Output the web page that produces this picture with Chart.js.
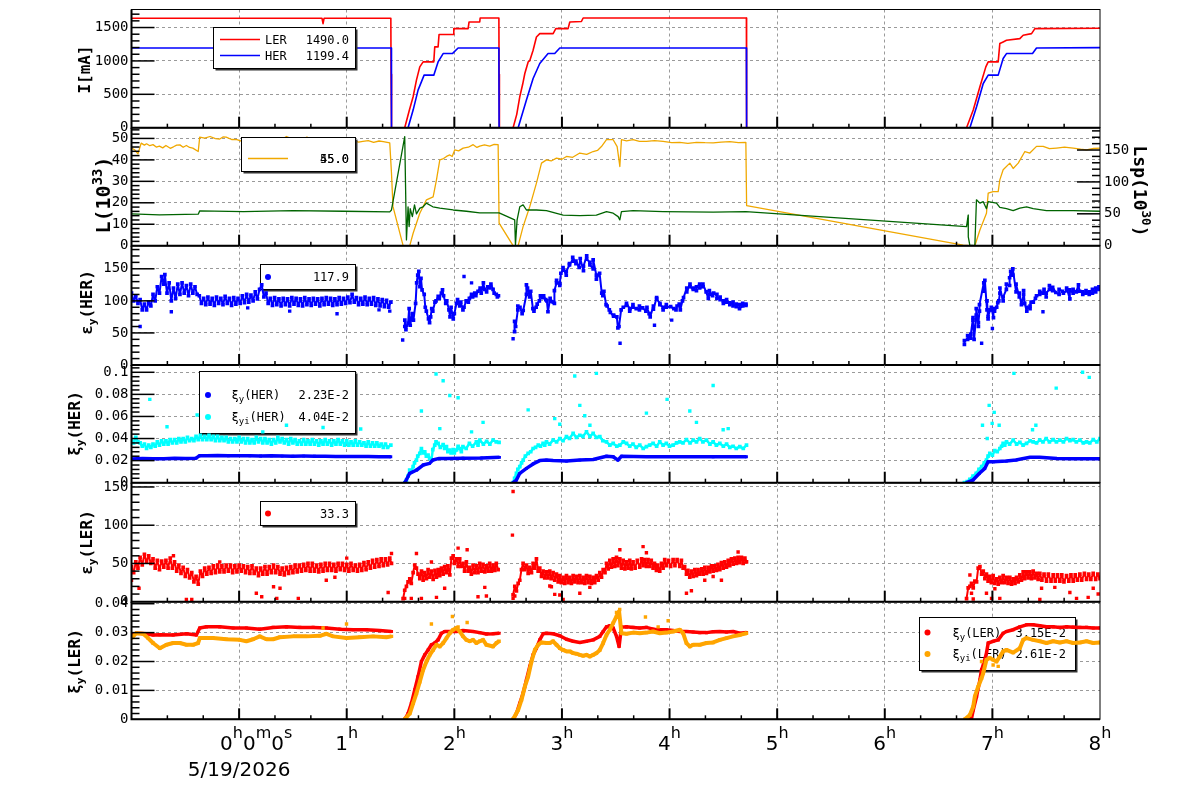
<!DOCTYPE html>
<html>
<head>
<meta charset="utf-8">
<script src="https://cdn.jsdelivr.net/npm/chart.js@4.4.1/dist/chart.umd.min.js"></script>
<style>
  body { margin: 0; background: #fff; }
  #wrap { position: relative; width: 1200px; height: 798px; }
  #wrap canvas { position: absolute; left: 0; top: 0; }
</style>
</head>
<body>
<div id="wrap"></div>
<script>
// ---- data (time in hours from 0h0m0s, 5/19/2026) ----
const gridHours = [-1, 0, 1, 2, 3, 4, 5, 6, 7, 8];
const xHourLabels = [1, 2, 3, 4, 5, 6, 7, 8];
const originLabel = [['0', 0], ['h', 1], ['0', 0], ['m', 1], ['0', 0], ['s', 1]];
const dateLabel = '5/19/2026';

const currentTicks = [0, 500, 1000, 1500];
const lumiTicks = [0, 10, 20, 30, 40, 50];
const lumiSpecTicks = [0, 50, 100, 150];
const emitTicks = [0, 50, 100, 150];
const herXiTicks = [0, 0.02, 0.04, 0.06, 0.08, 0.1];
const lerXiTicks = [0, 0.01, 0.02, 0.03, 0.04];

const lerCurrent = [[-1,1640],[0.77,1640],[0.78,1559],[0.79,1640],[1.41,1640],[1.412,800],[1.416,610],[1.417,0],[1.539,0],[1.58,250],[1.617,463],[1.648,712],[1.679,911],[1.71,985],[1.809,985],[1.818,1210],[1.849,1210],[1.858,1395],[1.989,1395],[1.995,1484],[2.128,1484],[2.137,1583],[2.236,1583],[2.24,1643],[2.414,1643],[2.416,800],[2.418,610],[2.42,0],[2.546,0],[2.58,200],[2.608,463],[2.635,650],[2.655,812],[2.686,985],[2.70,1000],[2.732,1160],[2.763,1359],[2.794,1409],[2.918,1409],[2.943,1484],[3.057,1484],[3.073,1583],[3.181,1590],[3.197,1643],[4.714,1643],[4.716,0],[6.76,0],[6.822,264],[6.884,612],[6.939,911],[6.961,985],[7.054,985],[7.069,1260],[7.10,1284],[7.131,1309],[7.255,1334],[7.286,1384],[7.364,1409],[7.395,1484],[8.0,1490]];
const herCurrent = [[-1,1194],[1.414,1194],[1.416,0],[1.57,0],[1.617,264],[1.663,563],[1.719,787],[1.809,787],[1.849,985],[1.896,1110],[1.982,1110],[2.035,1194],[2.414,1194],[2.416,0],[2.593,0],[2.67,414],[2.732,737],[2.794,961],[2.871,1110],[2.933,1110],[2.98,1194],[4.714,1194],[4.716,0],[6.791,0],[6.853,314],[6.915,662],[6.961,787],[7.054,787],[7.10,1036],[7.131,1110],[7.373,1110],[7.41,1194],[8.0,1199]];
const currentLegend = ['1490.0', '1199.4'];

const lumi = [[-1,45.5],[-0.97,44.7],[-0.94,42.8],[-0.91,47.8],[-0.88,46.9],[-0.86,47.5],[-0.83,46.6],[-0.8,47.1],[-0.77,46.0],[-0.74,46.4],[-0.71,45.6],[-0.68,46.7],[-0.64,45.4],[-0.61,46.1],[-0.58,46.9],[-0.55,47.0],[-0.52,45.9],[-0.49,46.7],[-0.46,45.8],[-0.43,45.5],[-0.38,43.9],[-0.366,50.6],[-0.32,50.1],[-0.27,50.9],[-0.22,49.9],[-0.18,49.7],[-0.15,50.7],[-0.12,50.6],[-0.07,49.5],[-0.02,49.4],[0.02,48.7],[0.07,48.6],[0.11,49.5],[0.16,49.1],[0.2,48.3],[0.25,48.2],[0.3,49.4],[0.35,50.1],[0.4,49.6],[0.44,50.9],[0.49,49.8],[0.53,50.1],[0.58,49.5],[0.63,50.6],[0.67,49.6],[0.72,49.7],[0.78,48.2],[0.82,49.6],[0.87,49.4],[0.92,48.8],[0.97,49.7],[1.01,48.9],[1.06,49.1],[1.11,48.3],[1.15,48.6],[1.2,49.0],[1.25,48.2],[1.3,48.8],[1.34,48.5],[1.40,47.9],[1.416,33.8],[1.43,18.2],[1.524,0],[1.586,0],[1.617,5.8],[1.679,15.1],[1.741,21.4],[1.803,22.8],[1.834,30.7],[1.865,40],[1.9,40.6],[1.927,41.6],[1.958,42.3],[1.98,41.6],[2.004,44.7],[2.04,44.2],[2.082,45.5],[2.13,45.9],[2.175,47.1],[2.21,45.8],[2.236,46.4],[2.28,47.0],[2.329,46.4],[2.37,47.2],[2.407,47.1],[2.416,10.5],[2.546,0],[2.593,0],[2.639,8.9],[2.701,18.2],[2.763,29.2],[2.81,38.5],[2.856,40],[2.9,39.5],[2.949,40.8],[3.0,40.3],[3.042,41.6],[3.1,41.2],[3.166,43.2],[3.23,42.6],[3.29,43.9],[3.33,44.4],[3.367,46.2],[3.414,49.4],[3.476,49.4],[3.513,46.2],[3.538,36.9],[3.553,49.4],[3.6,48.9],[3.661,49.4],[3.72,48.6],[3.785,48.6],[3.86,49.0],[3.94,48.6],[4.02,48.0],[4.095,48.2],[4.17,47.7],[4.25,48.2],[4.33,48.0],[4.405,47.9],[4.48,48.3],[4.56,48.5],[4.64,48.0],[4.709,48.2],[4.716,18.7],[6.729,0.3],[6.79,0],[6.837,0],[6.884,7.3],[6.945,15.1],[6.961,24.5],[7.007,25.2],[7.054,25.2],[7.069,30.7],[7.1,35.4],[7.162,38.5],[7.193,36],[7.24,38.5],[7.302,43.9],[7.348,43.2],[7.41,46.3],[7.472,46.3],[7.53,45.2],[7.596,45.5],[7.67,45.9],[7.751,45.5],[7.82,45.0],[7.875,44.7],[7.94,45.3],[8.0,45.5]];
const lumiSpec = [[-1,49.9],[-0.74,48.4],[-0.38,49.4],[-0.366,54.6],[0.04,53.5],[0.5,55],[0.97,54],[1.40,53],[1.416,56],[1.539,171],[1.555,9],[1.57,61],[1.58,30],[1.59,58],[1.61,45.6],[1.63,64],[1.648,50],[1.68,59],[1.71,61],[1.74,66.7],[1.80,61],[1.865,59],[1.989,56],[2.112,54],[2.236,51.5],[2.416,51.5],[2.561,40.4],[2.568,1],[2.583,40],[2.608,61],[2.639,64],[2.67,56],[2.763,56],[2.856,55],[3.011,48],[3.166,47],[3.32,48],[3.414,53.5],[3.476,51],[3.522,45.6],[3.538,40.4],[3.553,53.5],[3.661,55],[3.94,53.5],[4.405,52.5],[4.709,53.5],[6.76,30],[6.775,48],[6.776,14],[6.79,1],[6.837,0],[6.852,72],[6.884,66.7],[6.915,69],[6.945,58],[6.961,69],[7.038,66.7],[7.069,60],[7.131,58],[7.193,55],[7.255,59],[7.317,61],[7.379,58],[7.503,55],[7.751,55],[8.0,54]];
const lumiLegend = ['55.0', '45.0'];

const herEmit = [
  [[-1.00,112],[-0.98,100],[-0.96,108],[-0.94,96],[-0.92,102],[-0.90,86],[-0.88,95],[-0.86,86],[-0.84,98],[-0.82,92],[-0.80,110],[-0.78,100],[-0.76,122],[-0.74,112],[-0.72,138],[-0.70,126],[-0.69,141],[-0.67,112],[-0.65,128],[-0.63,100],[-0.61,120],[-0.59,104],[-0.57,126],[-0.55,110],[-0.53,128],[-0.51,112],[-0.49,124],[-0.47,108],[-0.45,126],[-0.43,112],[-0.41,122],[-0.39,110],[-0.37,108],[-0.35,96],[-0.33,104],[-0.31,94],[-0.29,106],[-0.27,95],[-0.25,104],[-0.23,93],[-0.21,106],[-0.19,96],[-0.17,104],[-0.15,94],[-0.13,107],[-0.11,96],[-0.09,104],[-0.07,93],[-0.05,105],[-0.03,95],[-0.01,104],[0.01,96],[0.03,108],[0.05,97],[0.07,110],[0.09,98],[0.11,109],[0.13,100],[0.15,114],[0.17,103],[0.19,118],[0.21,125],[0.23,106],[0.25,112],[0.27,96],[0.29,104],[0.31,93],[0.33,105],[0.35,94],[0.37,103],[0.39,92],[0.41,104],[0.43,94],[0.45,103],[0.47,92],[0.49,105],[0.51,95],[0.53,104],[0.55,93],[0.57,103],[0.59,92],[0.61,105],[0.63,94],[0.65,103],[0.67,93],[0.69,104],[0.71,95],[0.73,103],[0.75,92],[0.77,104],[0.79,94],[0.81,105],[0.83,95],[0.85,104],[0.87,93],[0.89,103],[0.91,94],[0.93,105],[0.95,95],[0.97,104],[0.99,96],[1.01,106],[1.03,97],[1.05,110],[1.07,98],[1.09,105],[1.11,94],[1.13,104],[1.15,95],[1.17,106],[1.19,94],[1.21,104],[1.23,95],[1.25,105],[1.27,93],[1.29,103],[1.31,92],[1.33,102],[1.35,91],[1.37,101],[1.39,90],[1.41,98]],
  [[1.54,60],[1.54,70],[1.55,55],[1.57,65],[1.58,88],[1.59,62],[1.60,72],[1.61,80],[1.62,70],[1.64,96],[1.65,128],[1.66,140],[1.67,146],[1.68,122],[1.69,135],[1.70,117],[1.72,110],[1.73,90],[1.74,84],[1.76,72],[1.77,66],[1.78,75],[1.79,88],[1.80,84],[1.82,98],[1.83,100],[1.85,107],[1.86,104],[1.88,112],[1.89,117],[1.90,108],[1.92,96],[1.93,100],[1.95,86],[1.96,75],[1.97,90],[1.99,72],[2.00,80],[2.02,96],[2.03,102],[2.05,92],[2.06,98],[2.08,86],[2.09,90],[2.11,100],[2.13,98],[2.14,104],[2.16,110],[2.17,106],[2.19,112],[2.20,108],[2.22,115],[2.24,120],[2.25,112],[2.27,128],[2.28,118],[2.30,114],[2.31,122],[2.33,120],[2.34,126],[2.36,118],[2.37,112],[2.39,110],[2.40,106],[2.41,108]],
  [[2.56,52],[2.56,68],[2.57,60],[2.59,86],[2.59,92],[2.61,90],[2.63,80],[2.64,85],[2.67,110],[2.67,125],[2.68,120],[2.70,106],[2.71,115],[2.73,88],[2.74,84],[2.76,90],[2.77,95],[2.79,100],[2.80,108],[2.82,105],[2.83,108],[2.85,102],[2.86,100],[2.87,83],[2.89,104],[2.90,99],[2.92,98],[2.93,96],[2.93,116],[2.95,128],[2.95,132],[2.98,124],[2.98,127],[2.99,143],[3.01,148],[3.01,152],[3.04,140],[3.04,146],[3.07,156],[3.07,158],[3.10,162],[3.10,168],[3.13,158],[3.13,162],[3.16,152],[3.17,166],[3.20,147],[3.20,154],[3.23,170],[3.23,165],[3.26,160],[3.26,156],[3.29,150],[3.29,164],[3.32,140],[3.32,134],[3.35,143],[3.37,112],[3.38,108],[3.39,115],[3.41,94],[3.42,92],[3.44,86],[3.45,82],[3.48,76],[3.48,78],[3.51,75],[3.52,58],[3.53,60],[3.55,86],[3.57,90],[3.60,93],[3.60,96],[3.63,88],[3.63,84],[3.66,94],[3.66,90],[3.69,88],[3.72,86],[3.72,92],[3.75,89],[3.78,84],[3.79,90],[3.81,80],[3.82,75],[3.85,92],[3.85,87],[3.88,105],[3.88,103],[3.91,96],[3.91,94],[3.94,90],[3.94,86],[3.97,94],[3.97,90],[4.01,91],[4.04,88],[4.06,86],[4.07,92],[4.09,95],[4.10,86],[4.12,100],[4.13,105],[4.16,120],[4.16,114],[4.19,126],[4.19,122],[4.22,118],[4.22,120],[4.25,116],[4.25,122],[4.28,126],[4.28,120],[4.31,122],[4.31,126],[4.34,114],[4.36,104],[4.37,110],[4.37,116],[4.40,108],[4.41,112],[4.44,110],[4.44,104],[4.47,106],[4.47,102],[4.50,100],[4.50,96],[4.53,102],[4.53,98],[4.56,97],[4.56,94],[4.59,98],[4.59,92],[4.62,95],[4.62,91],[4.65,94],[4.65,88],[4.68,92],[4.68,96],[4.71,93],[4.71,95]],
  [[6.74,32],[6.74,38],[6.77,40],[6.77,46],[6.80,42],[6.80,48],[6.82,74],[6.82,70],[6.83,40],[6.85,78],[6.85,88],[6.87,60],[6.87,66],[6.88,84],[6.88,94],[6.92,128],[6.92,115],[6.93,132],[6.95,86],[6.95,100],[6.96,72],[6.96,76],[6.98,86],[6.99,90],[7.01,74],[7.01,88],[7.02,84],[7.04,90],[7.05,97],[7.06,100],[7.07,112],[7.07,120],[7.10,100],[7.10,106],[7.13,118],[7.13,126],[7.16,124],[7.16,136],[7.17,146],[7.19,140],[7.19,150],[7.22,114],[7.22,126],[7.25,106],[7.25,112],[7.27,94],[7.29,110],[7.29,116],[7.30,96],[7.32,84],[7.32,90],[7.35,88],[7.35,92],[7.36,98],[7.38,98],[7.40,104],[7.41,108],[7.44,110],[7.44,115],[7.47,112],[7.48,118],[7.50,106],[7.50,112],[7.53,118],[7.53,124],[7.56,116],[7.56,121],[7.59,113],[7.62,110],[7.62,118],[7.65,115],[7.66,112],[7.69,116],[7.69,120],[7.72,103],[7.72,117],[7.75,112],[7.75,118],[7.78,114],[7.80,125],[7.81,115],[7.84,114],[7.84,110],[7.87,112],[7.87,116],[7.90,110],[7.90,114],[7.93,112],[7.93,118],[7.96,114],[7.96,120],[7.99,118],[7.99,122]]
];
const herEmitOut = [[-0.92,60],[-0.63,83],[0.08,89],[0.47,84],[0.91,80],[1.30,86],[1.40,84],[1.52,39],[2.09,138],[2.16,128],[2.546,41],[3.54,34],[3.86,62],[4.02,70],[6.90,34],[7.00,57],[7.47,83]];
const herEmitLegend = ['117.9'];

const herXi = [
  [[-1.0,0.0215],[-0.9,0.0220],[-0.8,0.0216],[-0.7,0.0218],[-0.6,0.0221],[-0.5,0.0219],[-0.4,0.0222],[-0.37,0.0243],[-0.3,0.0245],[-0.2,0.0246],[-0.1,0.0244],[0,0.0245],[0.1,0.0243],[0.2,0.0242],[0.3,0.0243],[0.4,0.0241],[0.5,0.0240],[0.6,0.0241],[0.7,0.0240],[0.8,0.0239],[0.9,0.0238],[1.0,0.0237],[1.1,0.0238],[1.2,0.0237],[1.3,0.0236],[1.41,0.0235]],
  [[1.54,0],[1.585,0.0085],[1.65,0.0115],[1.71,0.016],[1.77,0.0175],[1.80,0.0205],[1.86,0.022],[1.93,0.022],[2.08,0.0222],[2.25,0.0224],[2.42,0.023]],
  [[2.546,0],[2.577,0.0024],[2.608,0.0085],[2.67,0.013],[2.732,0.017],[2.794,0.020],[2.856,0.0205],[2.918,0.020],[3.042,0.0196],[3.166,0.0205],[3.29,0.021],[3.414,0.024],[3.476,0.0235],[3.52,0.0205],[3.553,0.024],[3.785,0.0236],[4.095,0.0236],[4.405,0.0235],[4.715,0.0235]],
  [[6.76,0],[6.82,0.0024],[6.88,0.0085],[6.93,0.013],[6.96,0.019],[7.01,0.019],[7.13,0.0196],[7.22,0.0205],[7.29,0.022],[7.35,0.023],[7.44,0.023],[7.60,0.022],[7.75,0.0218],[8.0,0.0217]]
];
const herXiI = [
  [[-1.0,0.039],[-0.98,0.036],[-0.96,0.041],[-0.94,0.037],[-0.92,0.036],[-0.90,0.033],[-0.88,0.035],[-0.86,0.031],[-0.84,0.034],[-0.82,0.032],[-0.80,0.035],[-0.78,0.033],[-0.76,0.037],[-0.74,0.034],[-0.72,0.038],[-0.70,0.035],[-0.68,0.038],[-0.66,0.035],[-0.64,0.039],[-0.62,0.036],[-0.60,0.039],[-0.58,0.036],[-0.56,0.040],[-0.54,0.037],[-0.52,0.040],[-0.50,0.037],[-0.48,0.041],[-0.46,0.038],[-0.44,0.040],[-0.42,0.038],[-0.40,0.042],[-0.38,0.039],[-0.36,0.043],[-0.34,0.039],[-0.32,0.042],[-0.30,0.039],[-0.28,0.043],[-0.26,0.039],[-0.24,0.042],[-0.22,0.038],[-0.20,0.042],[-0.18,0.038],[-0.16,0.041],[-0.14,0.038],[-0.12,0.041],[-0.10,0.037],[-0.08,0.040],[-0.06,0.037],[-0.04,0.040],[-0.02,0.037],[0,0.041],[0.02,0.037],[0.04,0.040],[0.06,0.036],[0.08,0.040],[0.10,0.036],[0.12,0.039],[0.14,0.036],[0.16,0.041],[0.18,0.037],[0.20,0.040],[0.22,0.036],[0.24,0.040],[0.26,0.036],[0.28,0.039],[0.30,0.035],[0.32,0.039],[0.34,0.036],[0.36,0.041],[0.38,0.037],[0.40,0.040],[0.42,0.036],[0.44,0.039],[0.46,0.035],[0.48,0.040],[0.50,0.036],[0.52,0.039],[0.54,0.035],[0.56,0.038],[0.58,0.035],[0.60,0.039],[0.62,0.035],[0.64,0.038],[0.66,0.035],[0.68,0.039],[0.70,0.035],[0.72,0.038],[0.74,0.034],[0.76,0.038],[0.78,0.035],[0.80,0.039],[0.82,0.035],[0.84,0.038],[0.86,0.034],[0.88,0.038],[0.90,0.035],[0.92,0.039],[0.94,0.035],[0.96,0.038],[0.98,0.034],[1.00,0.038],[1.02,0.034],[1.04,0.037],[1.06,0.034],[1.08,0.038],[1.10,0.034],[1.12,0.037],[1.14,0.034],[1.16,0.036],[1.18,0.033],[1.20,0.037],[1.22,0.033],[1.24,0.036],[1.26,0.033],[1.28,0.036],[1.30,0.033],[1.32,0.035],[1.34,0.032],[1.36,0.035],[1.38,0.032],[1.41,0.034]],
  [[1.54,0],[1.555,0.0024],[1.57,0.006],[1.585,0.0115],[1.60,0.010],[1.617,0.0145],[1.63,0.018],[1.648,0.0205],[1.66,0.024],[1.679,0.0266],[1.694,0.031],[1.71,0.027],[1.725,0.028],[1.74,0.024],[1.756,0.025],[1.77,0.022],[1.787,0.0205],[1.80,0.030],[1.818,0.034],[1.83,0.037],[1.849,0.0356],[1.87,0.032],[1.896,0.0345],[1.91,0.031],[1.927,0.0326],[1.94,0.028],[1.958,0.0296],[1.97,0.027],[1.989,0.030],[2.0,0.027],[2.02,0.0296],[2.035,0.033],[2.05,0.031],[2.065,0.028],[2.08,0.0326],[2.11,0.031],[2.14,0.0356],[2.17,0.033],[2.205,0.037],[2.22,0.034],[2.236,0.0386],[2.27,0.035],[2.30,0.0375],[2.33,0.035],[2.36,0.0386],[2.39,0.037],[2.416,0.0365]],
  [[2.546,0],[2.56,0.004],[2.577,0.0085],[2.59,0.012],[2.608,0.0145],[2.625,0.018],[2.64,0.0205],[2.66,0.024],[2.686,0.0266],[2.71,0.028],[2.732,0.031],[2.755,0.032],[2.78,0.034],[2.80,0.033],[2.825,0.0356],[2.84,0.034],[2.856,0.037],[2.885,0.035],[2.918,0.0386],[2.95,0.037],[2.98,0.040],[3.01,0.038],[3.042,0.0417],[3.07,0.040],[3.104,0.0447],[3.135,0.041],[3.166,0.043],[3.195,0.042],[3.228,0.046],[3.26,0.042],[3.29,0.0447],[3.32,0.041],[3.352,0.0417],[3.38,0.038],[3.414,0.037],[3.445,0.034],[3.476,0.0356],[3.51,0.033],[3.538,0.034],[3.57,0.037],[3.60,0.0356],[3.63,0.033],[3.66,0.035],[3.69,0.032],[3.723,0.034],[3.755,0.031],[3.785,0.0326],[3.815,0.034],[3.847,0.0356],[3.88,0.033],[3.909,0.037],[3.94,0.034],[3.97,0.0356],[4.0,0.033],[4.033,0.034],[4.065,0.036],[4.095,0.037],[4.125,0.036],[4.157,0.039],[4.19,0.036],[4.22,0.0386],[4.25,0.037],[4.28,0.040],[4.31,0.037],[4.343,0.0386],[4.375,0.035],[4.405,0.037],[4.435,0.034],[4.467,0.0356],[4.5,0.033],[4.53,0.035],[4.56,0.032],[4.59,0.033],[4.62,0.031],[4.653,0.0326],[4.685,0.031],[4.715,0.034]],
  [[6.74,0],[6.765,0.001],[6.79,0.003],[6.82,0.006],[6.85,0.0085],[6.875,0.012],[6.90,0.0145],[6.925,0.018],[6.945,0.0205],[6.96,0.024],[6.976,0.0266],[7.0,0.025],[7.023,0.029],[7.045,0.028],[7.069,0.031],[7.085,0.033],[7.10,0.0356],[7.115,0.034],[7.131,0.037],[7.16,0.035],[7.193,0.0386],[7.225,0.035],[7.255,0.0365],[7.285,0.034],[7.317,0.0356],[7.35,0.038],[7.379,0.037],[7.41,0.036],[7.44,0.0386],[7.47,0.037],[7.50,0.040],[7.53,0.037],[7.565,0.039],[7.595,0.037],[7.627,0.0386],[7.66,0.037],[7.689,0.040],[7.72,0.038],[7.75,0.039],[7.78,0.037],[7.813,0.0386],[7.845,0.036],[7.875,0.037],[7.905,0.036],[7.937,0.039],[7.97,0.037],[8.0,0.040]]
];
const herXiIOut = [[-0.83,0.0755],[-0.39,0.0613],[-0.67,0.0507],[0.44,0.052],[0.78,0.05],[1.13,0.0486],[0.22,0.046],[1.83,0.0984],[1.896,0.0924],[1.958,0.079],[2.035,0.077],[1.694,0.065],[1.865,0.049],[2.267,0.0546],[2.16,0.046],[2.686,0.066],[2.933,0.058],[2.98,0.053],[3.119,0.0966],[3.166,0.070],[3.212,0.0607],[3.26,0.052],[3.32,0.099],[3.785,0.063],[3.977,0.0755],[4.188,0.065],[4.25,0.0546],[4.405,0.088],[4.498,0.048],[4.545,0.049],[6.97,0.070],[7.017,0.0637],[6.998,0.0537],[6.908,0.052],[7.063,0.052],[6.952,0.040],[7.2,0.099],[7.404,0.052],[7.373,0.048],[7.593,0.0857],[7.838,0.100],[7.9,0.0954]];
const herXiLegend = ['2.23E-2', '4.04E-2'];

const lerEmit = [
  [[-1.00,46],[-0.98,38],[-0.96,52],[-0.94,44],[-0.92,58],[-0.90,48],[-0.88,62],[-0.86,52],[-0.84,60],[-0.82,50],[-0.80,56],[-0.78,44],[-0.76,54],[-0.74,42],[-0.72,53],[-0.70,45],[-0.68,54],[-0.66,44],[-0.64,57],[-0.62,44],[-0.60,52],[-0.58,40],[-0.56,48],[-0.54,37],[-0.52,45],[-0.50,33],[-0.48,42],[-0.46,31],[-0.44,38],[-0.42,26],[-0.40,33],[-0.38,23],[-0.36,40],[-0.34,33],[-0.32,44],[-0.30,36],[-0.28,45],[-0.26,37],[-0.24,47],[-0.22,38],[-0.20,48],[-0.18,39],[-0.16,47],[-0.14,39],[-0.12,48],[-0.10,40],[-0.08,48],[-0.06,38],[-0.04,47],[-0.02,39],[0.00,48],[0.02,40],[0.04,47],[0.06,38],[0.08,46],[0.10,37],[0.12,47],[0.14,37],[0.16,44],[0.18,34],[0.20,44],[0.22,36],[0.24,46],[0.26,36],[0.28,46],[0.30,38],[0.32,48],[0.34,38],[0.36,46],[0.38,36],[0.40,44],[0.42,35],[0.44,45],[0.46,37],[0.48,46],[0.50,38],[0.52,48],[0.54,39],[0.56,48],[0.58,40],[0.60,49],[0.62,41],[0.64,50],[0.66,40],[0.68,50],[0.70,40],[0.72,48],[0.74,39],[0.76,49],[0.78,40],[0.80,50],[0.82,41],[0.84,50],[0.86,41],[0.88,49],[0.90,40],[0.92,50],[0.94,42],[0.96,50],[0.98,41],[1.00,49],[1.02,40],[1.04,50],[1.06,41],[1.08,48],[1.10,40],[1.12,49],[1.14,41],[1.16,51],[1.18,42],[1.20,52],[1.22,44],[1.24,54],[1.26,45],[1.28,55],[1.30,46],[1.32,56],[1.34,47],[1.36,56],[1.38,48],[1.40,57],[1.416,50]],
  [[1.524,4],[1.539,15],[1.555,20],[1.57,26],[1.586,30],[1.60,24],[1.617,38],[1.632,48],[1.648,44],[1.663,36],[1.679,30],[1.695,40],[1.71,28],[1.725,38],[1.741,30],[1.756,42],[1.772,32],[1.787,40],[1.803,29],[1.82,41],[1.834,32],[1.85,42],[1.865,34],[1.88,44],[1.896,36],[1.91,46],[1.927,38],[1.94,47],[1.958,35],[1.973,57],[1.989,60],[2.0,50],[2.02,56],[2.035,46],[2.05,56],[2.065,46],[2.081,50],[2.095,40],[2.112,52],[2.128,40],[2.143,45],[2.158,36],[2.174,48],[2.19,38],[2.205,47],[2.22,38],[2.236,50],[2.25,40],[2.267,49],[2.283,39],[2.298,47],[2.314,40],[2.329,50],[2.345,40],[2.36,48],[2.376,41],[2.39,50],[2.407,42]],
  [[2.546,9],[2.562,20],[2.577,14],[2.593,24],[2.608,28],[2.624,42],[2.639,50],[2.655,42],[2.67,48],[2.686,37],[2.701,45],[2.717,38],[2.732,50],[2.748,44],[2.763,56],[2.779,40],[2.794,44],[2.81,33],[2.825,40],[2.84,31],[2.856,39],[2.87,31],[2.887,40],[2.9,30],[2.918,38],[2.933,28],[2.949,36],[2.965,26],[2.98,34],[2.995,25],[3.011,32],[3.026,24],[3.042,34],[3.057,25],[3.073,32],[3.088,24],[3.104,34],[3.12,26],[3.135,33],[3.15,25],[3.166,34],[3.18,25],[3.197,32],[3.212,24],[3.228,34],[3.243,25],[3.259,33],[3.274,24],[3.29,32],[3.305,25],[3.321,34],[3.337,28],[3.352,38],[3.368,32],[3.383,42],[3.4,38],[3.414,50],[3.43,43],[3.445,54],[3.46,45],[3.476,56],[3.49,46],[3.507,58],[3.52,47],[3.538,56],[3.553,44],[3.569,54],[3.585,43],[3.6,52],[3.615,44],[3.63,54],[3.645,43],[3.661,52],[3.68,44],[3.7,54],[3.723,45],[3.74,56],[3.754,47],[3.77,55],[3.785,46],[3.8,55],[3.816,46],[3.83,54],[3.847,44],[3.86,50],[3.878,41],[3.89,48],[3.909,40],[3.925,50],[3.94,44],[3.955,55],[3.971,47],[3.99,54],[4.01,46],[4.033,55],[4.05,47],[4.07,55],[4.095,46],[4.11,54],[4.126,44],[4.14,46],[4.157,36],[4.17,41],[4.188,32],[4.203,40],[4.219,33],[4.235,42],[4.25,34],[4.265,42],[4.281,36],[4.3,43],[4.312,36],[4.328,45],[4.343,37],[4.36,45],[4.374,39],[4.39,47],[4.405,40],[4.42,47],[4.436,41],[4.45,49],[4.467,42],[4.482,51],[4.498,44],[4.513,52],[4.529,45],[4.545,54],[4.56,47],[4.575,56],[4.591,49],[4.607,57],[4.622,50],[4.637,58],[4.653,51],[4.668,58],[4.684,50],[4.7,57],[4.715,52]],
  [[6.76,4],[6.775,18],[6.791,20],[6.806,24],[6.822,18],[6.837,27],[6.853,26],[6.868,44],[6.884,46],[6.9,36],[6.915,40],[6.93,30],[6.945,36],[6.96,27],[6.976,33],[6.99,25],[7.007,34],[7.022,24],[7.038,30],[7.054,23],[7.069,32],[7.085,25],[7.1,34],[7.115,25],[7.131,32],[7.146,24],[7.162,32],[7.178,23],[7.193,30],[7.21,24],[7.224,32],[7.24,26],[7.255,35],[7.27,28],[7.286,39],[7.3,30],[7.317,39],[7.332,31],[7.348,39],[7.363,30],[7.379,40],[7.395,31],[7.41,37],[7.425,29],[7.441,37],[7.46,28],[7.48,36],[7.503,27],[7.52,36],[7.545,27],[7.565,35],[7.585,27],[7.605,35],[7.627,27],[7.645,35],[7.665,26],[7.689,34],[7.71,27],[7.73,35],[7.751,27],[7.77,35],[7.79,28],[7.813,36],[7.83,28],[7.855,37],[7.875,29],[7.895,36],[7.915,29],[7.937,37],[7.96,29],[7.98,36],[8.0,30]]
];
const lerEmitOut = [[-1.0,28],[-0.93,17.5],[-0.61,60],[-0.49,3],[-0.44,3],[-0.18,52],[0.16,11],[0.21,6.5],[0.32,19.6],[0.35,4.4],[0.38,17.5],[0.55,4.4],[0.81,28],[0.89,32],[1.0,57],[1.385,12],[1.416,63],[1.539,4.4],[1.6,4.4],[1.648,63],[1.694,4.4],[1.787,52],[1.834,5.7],[1.91,17.5],[2.035,70],[2.119,68],[2.22,6.5],[2.283,18.8],[2.298,7.4],[2.54,87],[2.546,144],[2.546,4.4],[2.562,7.4],[2.887,20.5],[2.902,19.6],[2.933,9.6],[2.98,8.7],[3.011,3],[3.166,11],[3.259,18.8],[3.538,68],[3.754,72],[3.785,64],[4.157,11],[4.203,14.4],[4.327,28],[4.405,33],[4.482,28],[4.637,65],[6.791,35],[6.806,11],[6.822,3.5],[6.945,11],[6.992,4.4],[7.023,17],[7.069,4.4],[7.441,3],[7.457,17.5],[7.58,18.8],[7.72,12],[7.782,4.4],[7.89,5.7],[7.937,17.5],[7.983,10]];
const lerEmitLegend = ['33.3'];

const lerXi = [
  [[-1.0,0.0292],[-0.954,0.0298],[-0.861,0.0296],[-0.8,0.0292],[-0.737,0.0293],[-0.613,0.0292],[-0.489,0.0296],[-0.397,0.0292],[-0.366,0.0316],[-0.304,0.032],[-0.18,0.032],[-0.056,0.0316],[0.068,0.0316],[0.192,0.0312],[0.316,0.0318],[0.44,0.032],[0.564,0.0318],[0.688,0.0318],[0.812,0.0316],[0.936,0.0312],[1.06,0.031],[1.183,0.031],[1.307,0.0307],[1.416,0.0304]],
  [[1.539,0],[1.57,0.002],[1.601,0.0055],[1.632,0.0102],[1.663,0.0148],[1.694,0.020],[1.725,0.0223],[1.756,0.024],[1.787,0.0258],[1.818,0.0264],[1.849,0.0275],[1.88,0.0298],[1.911,0.0304],[1.958,0.0304],[2.02,0.0304],[2.081,0.0307],[2.174,0.0304],[2.236,0.030],[2.298,0.0295],[2.36,0.0296],[2.416,0.0298]],
  [[2.546,0],[2.577,0.002],[2.608,0.0055],[2.639,0.009],[2.67,0.0136],[2.701,0.0183],[2.732,0.0223],[2.763,0.0246],[2.794,0.0275],[2.825,0.0296],[2.856,0.0298],[2.918,0.0296],[2.98,0.0289],[3.042,0.0277],[3.104,0.027],[3.166,0.0266],[3.228,0.027],[3.29,0.0275],[3.352,0.0287],[3.383,0.0304],[3.414,0.032],[3.445,0.0324],[3.476,0.0316],[3.507,0.0287],[3.531,0.0252],[3.553,0.0319],[3.6,0.032],[3.661,0.0318],[3.723,0.0316],[3.785,0.0318],[3.847,0.0312],[3.909,0.031],[3.971,0.031],[4.033,0.0307],[4.095,0.0304],[4.157,0.0304],[4.219,0.0302],[4.281,0.030],[4.343,0.030],[4.405,0.0303],[4.467,0.0304],[4.529,0.0302],[4.591,0.0304],[4.653,0.0298],[4.715,0.030]],
  [[6.76,0],[6.806,0.0003],[6.822,0.0032],[6.853,0.0079],[6.884,0.0136],[6.899,0.0171],[6.915,0.0188],[6.945,0.0229],[6.961,0.0264],[7.007,0.027],[7.054,0.0275],[7.1,0.0298],[7.131,0.0304],[7.193,0.031],[7.255,0.032],[7.317,0.0327],[7.379,0.0327],[7.441,0.0324],[7.503,0.032],[7.565,0.032],[7.627,0.0318],[7.689,0.032],[7.751,0.0319],[7.813,0.0318],[7.875,0.0318],[7.937,0.0316],[8.0,0.0316]]
];
const lerXiI = [
  [[-1,0.0281],[-0.954,0.0298],[-0.892,0.0296],[-0.846,0.0281],[-0.8,0.0264],[-0.737,0.0246],[-0.675,0.0258],[-0.613,0.0264],[-0.551,0.0264],[-0.489,0.0258],[-0.428,0.0258],[-0.381,0.0264],[-0.366,0.0281],[-0.242,0.0281],[-0.118,0.0277],[0.006,0.0275],[0.068,0.027],[0.13,0.0277],[0.192,0.0287],[0.254,0.0277],[0.316,0.0277],[0.378,0.0284],[0.502,0.0287],[0.626,0.0287],[0.75,0.0289],[0.812,0.0296],[0.874,0.0287],[0.998,0.0281],[1.121,0.0284],[1.245,0.0287],[1.369,0.0284],[1.416,0.0287]],
  [[1.539,0],[1.586,0.002],[1.617,0.0055],[1.648,0.009],[1.679,0.013],[1.71,0.0171],[1.741,0.020],[1.772,0.0223],[1.803,0.024],[1.834,0.0258],[1.865,0.0252],[1.896,0.0264],[1.927,0.0281],[1.958,0.0298],[1.989,0.031],[2.02,0.0316],[2.05,0.0304],[2.081,0.0287],[2.112,0.0275],[2.143,0.027],[2.174,0.0275],[2.205,0.0264],[2.236,0.027],[2.267,0.0275],[2.298,0.0258],[2.36,0.0252],[2.391,0.0264],[2.416,0.027]],
  [[2.546,0],[2.593,0.0032],[2.624,0.0067],[2.655,0.0113],[2.686,0.0148],[2.717,0.020],[2.748,0.024],[2.779,0.0258],[2.81,0.0266],[2.856,0.0264],[2.887,0.0264],[2.918,0.027],[2.949,0.0258],[2.98,0.0246],[3.011,0.024],[3.042,0.0235],[3.073,0.0235],[3.104,0.0229],[3.135,0.0227],[3.166,0.0223],[3.197,0.022],[3.228,0.0223],[3.259,0.0217],[3.29,0.0223],[3.321,0.0229],[3.352,0.024],[3.383,0.0264],[3.414,0.0292],[3.445,0.031],[3.476,0.0333],[3.507,0.0356],[3.531,0.0373],[3.553,0.0298],[3.6,0.0296],[3.661,0.030],[3.723,0.0298],[3.785,0.030],[3.847,0.0304],[3.909,0.0298],[3.971,0.030],[4.033,0.0304],[4.095,0.031],[4.126,0.0298],[4.157,0.0264],[4.188,0.0252],[4.219,0.0258],[4.281,0.0258],[4.343,0.0264],[4.405,0.0266],[4.467,0.0275],[4.529,0.0281],[4.591,0.0287],[4.653,0.0292],[4.715,0.0298]],
  [[6.744,0],[6.791,0.0015],[6.822,0.0044],[6.837,0.0079],[6.868,0.0113],[6.899,0.0142],[6.915,0.016],[6.945,0.0206],[6.976,0.0212],[7.007,0.0206],[7.038,0.020],[7.069,0.0217],[7.1,0.0235],[7.131,0.024],[7.193,0.0231],[7.255,0.0246],[7.286,0.0275],[7.317,0.0281],[7.379,0.0275],[7.441,0.027],[7.503,0.0264],[7.565,0.027],[7.627,0.0266],[7.689,0.027],[7.751,0.0264],[7.813,0.0266],[7.875,0.027],[7.937,0.0264],[8.0,0.0266]]
];
const lerXiIOut = [[0.998,0.033],[0.78,0.0316],[1.982,0.0356],[1.787,0.033],[2.119,0.0335],[2.035,0.032],[3.537,0.038],[3.507,0.037],[3.776,0.0354],[3.987,0.0341],[3.894,0.032],[6.899,0.020],[7.007,0.0188],[7.054,0.0183]];
const lerXiLegend = ['3.15E-2', '2.61E-2'];

// ---- layout ----
const W = 1200, H = 798;
const PLOT_L = 131.5, PLOT_R = 1100;
const PANEL_TOP = [9.5, 127.7, 245.7, 365, 482.7, 601.7];
const PANEL_BOT = [127.7, 245.7, 365, 482.7, 601.7, 719.3];
const MONO = "'DejaVu Sans Mono', monospace";
const SANS = "'DejaVu Sans', sans-serif";
const GRID = '#9a9a9a';
const TITLE_F = { family: MONO, weight: 'bold', size: 16, small: 0.7, rise: 7, drop: 4 };
const LEG_F = { family: MONO, weight: 'normal', size: 12, small: 0.75, rise: 5, drop: 3 };
const XL_F = { family: SANS, weight: 'normal', size: 20, small: 0.8, rise: 12, drop: 0 };

const joinSegs = segs => {
  const out = [];
  segs.forEach((s, i) => { if (i) out.push([s[0][0], null]); out.push(...s); });
  return out;
};

function rich(ctx, parts, x, y, f, measureOnly) {
  let cx = x;
  for (const [t, m] of parts) {
    const size = m ? f.size * f.small : f.size;
    ctx.font = `${f.weight} ${size}px ${f.family}`;
    const dy = m === 1 ? -f.rise : m === -1 ? f.drop : 0;
    if (!measureOnly) ctx.fillText(t, cx, y + dy);
    cx += ctx.measureText(t).width;
  }
  return cx - x;
}

function rotatedTitle(ctx, t) {
  const f = Object.assign({}, TITLE_F, { size: t.size, rise: t.size * 0.42 });
  ctx.save();
  ctx.fillStyle = '#000';
  ctx.textAlign = 'left';
  ctx.textBaseline = 'alphabetic';
  ctx.translate(t.x, t.y);
  ctx.rotate(t.rot * Math.PI / 2);
  const w = rich(ctx, t.parts, 0, 0, f, true);
  rich(ctx, t.parts, -w / 2, 0, f);
  ctx.restore();
}

function drawLegend(ctx, L) {
  const [x, y, w, h] = L.box;
  ctx.save();
  ctx.fillStyle = '#333'; ctx.fillRect(x + 2, y + 2, w, h);
  ctx.fillStyle = '#fff'; ctx.fillRect(x, y, w, h);
  ctx.strokeStyle = '#000'; ctx.lineWidth = 1; ctx.strokeRect(x, y, w, h);
  ctx.textBaseline = 'alphabetic';
  L.rows.forEach(r => {
    ctx.fillStyle = r.color; ctx.strokeStyle = r.color;
    if (r.mark === 'line') {
      ctx.lineWidth = 1.3;
      ctx.beginPath(); ctx.moveTo(L.markX, r.y); ctx.lineTo(L.markX + 40, r.y); ctx.stroke();
    } else {
      ctx.beginPath(); ctx.arc(L.markX, r.y, 3, 0, Math.PI * 2); ctx.fill();
    }
    ctx.fillStyle = '#000';
    ctx.textAlign = 'left';
    if (r.label) rich(ctx, r.label, L.labelX, r.y + 4, LEG_F);
    ctx.font = `12px ${MONO}`;
    ctx.textAlign = 'right';
    r.values.forEach(v => ctx.fillText(v, L.valueR, r.y + 4));
  });
  ctx.restore();
}

function yTicks(ctx, ys, minor, step, x0, dir) {
  const n = Math.floor(ys.max / minor + 1e-6);
  for (let k = 1; k <= n; k++) {
    const v = k * minor, py = ys.getPixelForValue(v);
    const major = Math.abs(v / step - Math.round(v / step)) < 1e-6;
    ctx.lineWidth = 1.5;
    ctx.beginPath(); ctx.moveTo(x0, py); ctx.lineTo(x0 + dir * (major ? 23 : 8), py); ctx.stroke();
  }
}

function drawFrame(chart, p) {
  const ctx = chart.ctx, a = chart.chartArea, xs = chart.scales.x;
  ctx.save();
  ctx.strokeStyle = '#000';
  ctx.lineWidth = 1;
  ctx.strokeRect(a.left, a.top, a.right - a.left, a.bottom - a.top);
  ctx.lineWidth = 2;
  ctx.beginPath(); ctx.moveTo(a.left, a.top); ctx.lineTo(a.left, a.bottom); ctx.lineTo(a.right, a.bottom); ctx.stroke();
  // hour ticks with 20 minute minors, pointing into the plot
  for (let k = 1; k < 27; k++) {
    const px = xs.getPixelForValue(-1 + k / 3), major = k % 3 === 0;
    ctx.lineWidth = major ? 2 : 1.5;
    ctx.beginPath(); ctx.moveTo(px, a.bottom); ctx.lineTo(px, a.bottom - (major ? 11 : 4)); ctx.stroke();
  }
  yTicks(ctx, chart.scales.y, p.minor, p.step, a.left, 1);
  if (chart.scales.y2) yTicks(ctx, chart.scales.y2, p.minor2, p.step2, a.right, -1);
  ctx.restore();
}

function drawXLabels(chart) {
  const ctx = chart.ctx, xs = chart.scales.x;
  ctx.save();
  ctx.fillStyle = '#000';
  ctx.textAlign = 'left';
  ctx.textBaseline = 'alphabetic';
  xHourLabels.forEach(h => {
    const parts = [[String(h), 0], ['h', 1]];
    const w = rich(ctx, parts, 0, 0, XL_F, true);
    rich(ctx, parts, xs.getPixelForValue(h) - w / 2, 750, XL_F);
  });
  rich(ctx, originLabel, xs.getPixelForValue(0) - 19, 750, XL_F);
  ctx.font = `20px ${SANS}`;
  ctx.textAlign = 'center';
  ctx.fillText(dateLabel, xs.getPixelForValue(0), 776);
  ctx.restore();
}

function decoPlugin(p) {
  return {
    id: 'deco' + p.idx,
    beforeDatasetsDraw(chart) { if (p.legendUnder) drawLegend(chart.ctx, p.legend); },
    afterDatasetsDraw(chart) {
      if (!p.legendUnder) drawLegend(chart.ctx, p.legend);
      drawFrame(chart, p);
    },
    afterDraw(chart) {
      p.titles.forEach(t => rotatedTitle(chart.ctx, t));
      if (p.xLabels) drawXLabels(chart);
    }
  };
}

function xAxis() {
  return {
    type: 'linear', min: -1, max: 8,
    afterBuildTicks: s => { s.ticks = gridHours.map(v => ({ value: v })); },
    afterFit: s => { s.height = 0; s.paddingLeft = 0; s.paddingRight = 0; },
    ticks: { display: false },
    grid: { drawTicks: false, lineWidth: 1, color: c => (c.tick && c.tick.value > -1 && c.tick.value < 8) ? GRID : 'rgba(0,0,0,0)' },
    border: { display: false, dash: [3, 3] }
  };
}

function yAxis(max, tickVals, pos) {
  const left = pos === 'left';
  return {
    type: 'linear', position: pos, min: 0, max,
    afterBuildTicks: s => { s.ticks = tickVals.map(v => ({ value: v })); },
    afterFit: s => { s.width = left ? PLOT_L : W - PLOT_R; s.paddingTop = 0; s.paddingBottom = 0; },
    ticks: {
      autoSkip: false, padding: left ? 3 : 4,
      color: '#000', font: { family: MONO, size: 14 },
      callback: v => String(+Number(v).toFixed(6))
    },
    grid: { display: left, drawTicks: false, lineWidth: 1, color: c => (c.tick && c.tick.value > 0) ? GRID : 'rgba(0,0,0,0)' },
    border: { display: false, dash: [3, 3] }
  };
}

const lineSet = (data, color, width, order, axis) => ({
  data, showLine: true, borderColor: color, backgroundColor: color, borderWidth: width,
  pointRadius: 0, order, yAxisID: axis || 'y', borderJoinStyle: 'round', spanGaps: false
});
const bandSet = (data, color, width, r, order) => ({
  data, showLine: true, borderColor: color, backgroundColor: color, borderWidth: width,
  pointStyle: 'rect', pointRadius: r, pointBorderWidth: 0, order, borderJoinStyle: 'round', spanGaps: false
});
const dotSet = (data, color, r, order) => ({
  data, showLine: false, pointStyle: 'rect', pointRadius: r, pointBorderWidth: 0,
  backgroundColor: color, borderColor: color, order
});

const panels = [
  {
    max: 1770, ticks: currentTicks, step: 500, minor: 100,
    datasets: [lineSet(lerCurrent, '#ff0000', 1.6, 1), lineSet(herCurrent, '#0000ff', 1.6, 0)],
    legend: { box: [213.5, 27.5, 142, 41], markX: 220, labelX: 265, valueR: 349, rows: [
      { mark: 'line', color: '#ff0000', y: 39.5, label: [['LER', 0]], values: [currentLegend[0]] },
      { mark: 'line', color: '#0000ff', y: 55.5, label: [['HER', 0]], values: [currentLegend[1]] }] },
    titles: [{ parts: [['I[mA]', 0]], x: 90, y: 69.5, size: 16, rot: -1 }]
  },
  {
    max: 55, ticks: lumiTicks, step: 10, minor: 2, max2: 185, ticks2: lumiSpecTicks, step2: 50, minor2: 10,
    datasets: [lineSet(lumi, '#f0a800', 1.3, 1, 'y'), lineSet(lumiSpec, '#006400', 1.3, 0, 'y2')],
    legend: { box: [241.5, 137.5, 114, 34], markX: 248, labelX: 0, valueR: 349, rows: [
      { mark: 'line', color: '#f0a800', y: 158.5, label: null, values: lumiLegend }] },
    titles: [
      { parts: [['L(10', 0], ['33', 1], [')', 0]], x: 110, y: 195, size: 20, rot: -1 },
      { parts: [['Lsp(10', 0], ['30', 1], [')', 0]], x: 1134, y: 191, size: 18, rot: 1 }]
  },
  {
    max: 186, ticks: emitTicks, step: 50, minor: 10, legendUnder: true,
    datasets: [bandSet(joinSegs(herEmit), '#0000ff', 2, 2.6, 0), dotSet(herEmitOut, '#0000ff', 2.4, 1)],
    legend: { box: [260.5, 264.5, 95, 25], markX: 268, labelX: 0, valueR: 349, rows: [
      { mark: 'dot', color: '#0000ff', y: 277, label: null, values: herEmitLegend }] },
    titles: [{ parts: [['ε', 0], ['y', -1], ['(HER)', 0]], x: 92, y: 302.5, size: 16, rot: -1 }]
  },
  {
    max: 0.1066, ticks: herXiTicks, step: 0.02, minor: 0.004, legendUnder: true,
    datasets: [bandSet(joinSegs(herXi), '#0000ff', 3.5, 2, 0), bandSet(joinSegs(herXiI), '#00ffff', 2.5, 2.6, 1), dotSet(herXiIOut, '#00ffff', 2.4, 2)],
    legend: { box: [199.5, 371.5, 156, 62], markX: 208, labelX: 231.5, valueR: 349, rows: [
      { mark: 'dot', color: '#0000ff', y: 395, label: [['ξ', 0], ['y', -1], ['(HER)', 0]], values: [herXiLegend[0]] },
      { mark: 'dot', color: '#00ffff', y: 417, label: [['ξ', 0], ['yi', -1], ['(HER)', 0]], values: [herXiLegend[1]] }] },
    titles: [{ parts: [['ξ', 0], ['y', -1], ['(HER)', 0]], x: 80, y: 423.5, size: 16, rot: -1 }]
  },
  {
    max: 155.6, ticks: emitTicks, step: 50, minor: 10, legendUnder: true,
    datasets: [bandSet(joinSegs(lerEmit), '#ff0000', 2, 2.6, 0), dotSet(lerEmitOut, '#ff0000', 2.4, 1)],
    legend: { box: [260.5, 501.5, 95, 24], markX: 268, labelX: 0, valueR: 349, rows: [
      { mark: 'dot', color: '#ff0000', y: 513.5, label: null, values: lerEmitLegend }] },
    titles: [{ parts: [['ε', 0], ['y', -1], ['(LER)', 0]], x: 92, y: 542.5, size: 16, rot: -1 }]
  },
  {
    max: 0.0407, ticks: lerXiTicks, step: 0.01, minor: 0.002, legendUnder: true, xLabels: true,
    datasets: [bandSet(joinSegs(lerXi), '#ff0000', 3.5, 2.2, 1), bandSet(joinSegs(lerXiI), '#ffa500', 4, 2.4, 0), dotSet(lerXiIOut, '#ffa500', 2.4, 0)],
    legend: { box: [919.5, 617.5, 156, 53], markX: 927.5, labelX: 952.5, valueR: 1066, rows: [
      { mark: 'dot', color: '#ff0000', y: 632.5, label: [['ξ', 0], ['y', -1], ['(LER)', 0]], values: [lerXiLegend[0]] },
      { mark: 'dot', color: '#ffa500', y: 654, label: [['ξ', 0], ['yi', -1], ['(LER)', 0]], values: [lerXiLegend[1]] }] },
    titles: [{ parts: [['ξ', 0], ['y', -1], ['(LER)', 0]], x: 80, y: 661.5, size: 16, rot: -1 }]
  }
];

const wrap = document.getElementById('wrap');
panels.forEach((p, i) => {
  p.idx = i;
  const cv = document.createElement('canvas');
  cv.width = W; cv.height = H;
  wrap.appendChild(cv);
  const scales = { x: xAxis(), y: yAxis(p.max, p.ticks, 'left') };
  if (p.max2) scales.y2 = yAxis(p.max2, p.ticks2, 'right');
  new Chart(cv, {
    type: 'scatter',
    data: { datasets: p.datasets },
    options: {
      responsive: false, animation: false, devicePixelRatio: 1, events: [],
      layout: { padding: { left: 0, right: p.max2 ? 0 : W - PLOT_R, top: PANEL_TOP[i], bottom: H - PANEL_BOT[i] } },
      plugins: { legend: { display: false }, tooltip: { enabled: false } },
      scales
    },
    plugins: [decoPlugin(p)]
  });
});
</script>
</body>
</html>
